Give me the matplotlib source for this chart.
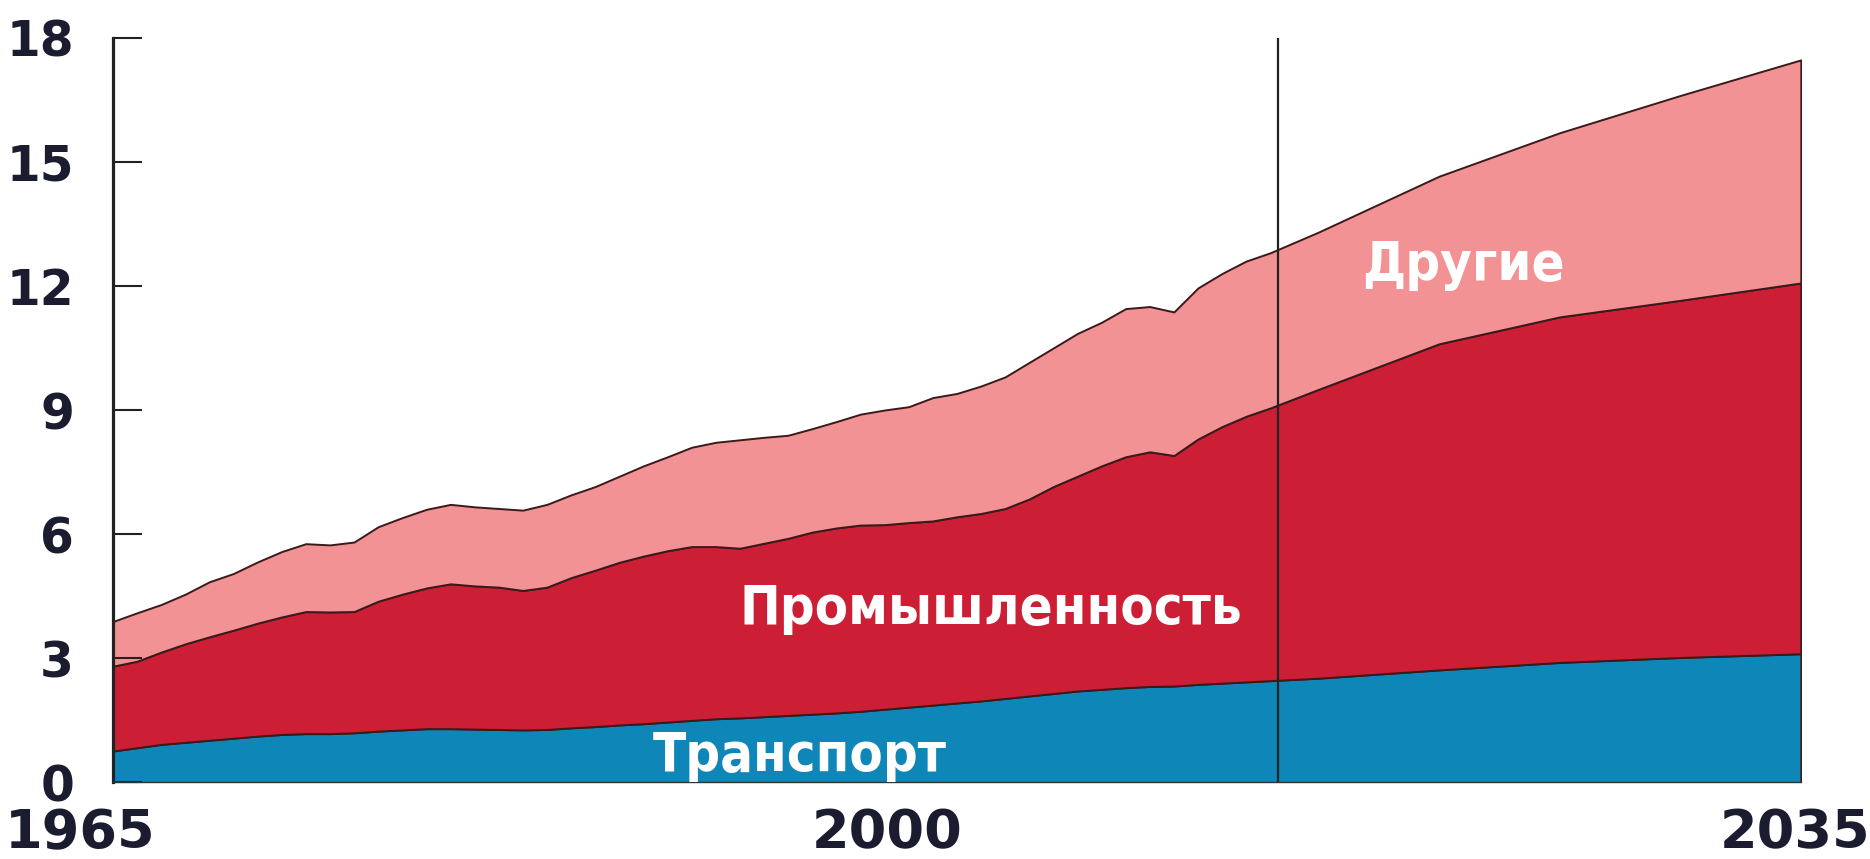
import matplotlib
matplotlib.use("Agg")
import matplotlib.pyplot as plt
import matplotlib.transforms as mtransforms
import numpy as np

# years: annual history to 2013, then the outlook points
years = list(range(1965, 2014)) + [2015, 2020, 2025, 2030, 2035]

transport = [0.76, 0.84, 0.92, 0.97, 1.02, 1.07, 1.12, 1.16, 1.18, 1.18,
             1.20, 1.24, 1.27, 1.30, 1.30, 1.29, 1.28, 1.27, 1.28, 1.32,
             1.35, 1.39, 1.42, 1.46, 1.50, 1.54, 1.56, 1.59, 1.62, 1.65,
             1.68, 1.72, 1.77, 1.82, 1.87, 1.92, 1.97, 2.03, 2.09, 2.15,
             2.21, 2.25, 2.29, 2.32, 2.33, 2.37, 2.40, 2.43, 2.46,
             2.52, 2.72, 2.90, 3.02, 3.11]
industry = [2.05, 2.09, 2.23, 2.38, 2.50, 2.61, 2.73, 2.84, 2.95, 2.94,
            2.93, 3.14, 3.28, 3.40, 3.50, 3.46, 3.44, 3.37, 3.44, 3.63,
            3.78, 3.93, 4.05, 4.14, 4.20, 4.16, 4.10, 4.19, 4.28, 4.40,
            4.47, 4.50, 4.46, 4.46, 4.45, 4.50, 4.53, 4.59, 4.76, 5.00,
            5.19, 5.40, 5.58, 5.67, 5.57, 5.93, 6.20, 6.42, 6.59,
            6.98, 7.88, 8.35, 8.63, 8.96]
other = [1.08, 1.17, 1.15, 1.20, 1.33, 1.37, 1.48, 1.58, 1.64, 1.62,
         1.68, 1.80, 1.85, 1.90, 1.92, 1.91, 1.90, 1.94, 2.00, 2.00,
         2.02, 2.08, 2.18, 2.27, 2.40, 2.52, 2.62, 2.56, 2.49, 2.50,
         2.57, 2.68, 2.77, 2.80, 2.98, 2.98, 3.08, 3.18, 3.30, 3.35,
         3.45, 3.47, 3.58, 3.51, 3.47, 3.65, 3.70, 3.75, 3.75,
         3.80, 4.05, 4.45, 4.95, 5.39]

series_names = ["Транспорт", "Промышленность", "Другие"]
series_colors = ["#0f86b8", "#cc1f35", "#f29294"]
label_pos = [(1993.5, 0.65), (2001.4, 4.2), (2021.0, 12.5)]

y_ticks = [0, 3, 6, 9, 12, 15, 18]
x_ticks = [1965, 2000, 2035]
forecast_start = 2013.3
ink = "#1c1c30"

fig = plt.figure(figsize=(18.7, 8.59), dpi=100)
ax = fig.add_axes([0.0604, 0.0891, 0.9026, 0.8672])

ax.stackplot(years, transport, industry, other, colors=series_colors,
             edgecolor="#3a1a1a", linewidth=1.4)
ax.axvline(forecast_start, ymin=0, ymax=1, color="#222222", lw=1.6)

for name, (x, y) in zip(series_names, label_pos):
    ax.text(x, y, name, color="white", fontsize=39, fontweight="bold",
            fontstretch="condensed", ha="center", va="center")

ax.set_xlim(1965, 2035)
ax.set_ylim(0, 18)
ax.set_yticks(y_ticks)
ax.set_xticks(x_ticks)
ax.set_yticklabels([str(v) for v in y_ticks], fontsize=35, fontweight="bold", color=ink)
ax.set_xticklabels([str(v) for v in x_ticks], fontsize=39, fontweight="bold", color=ink)
ax.tick_params(axis="y", direction="in", length=21, width=1.5, color="#222222", pad=28)
ax.tick_params(axis="x", length=0, pad=18)

# the year labels sit slightly left of their positions in the original
for lab, dx in zip(ax.get_xticklabels(), [-0.33, -0.70, -0.06]):
    lab.set_transform(lab.get_transform() +
                      mtransforms.ScaledTranslation(dx, 0, fig.dpi_scale_trans))

for s in ["top", "right"]:
    ax.spines[s].set_visible(False)
ax.spines["left"].set_linewidth(2.3)
ax.spines["left"].set_color("#222222")
ax.spines["bottom"].set_linewidth(1.0)
ax.spines["bottom"].set_color("#333333")

fig.savefig("out.png", dpi=100, facecolor="white")
